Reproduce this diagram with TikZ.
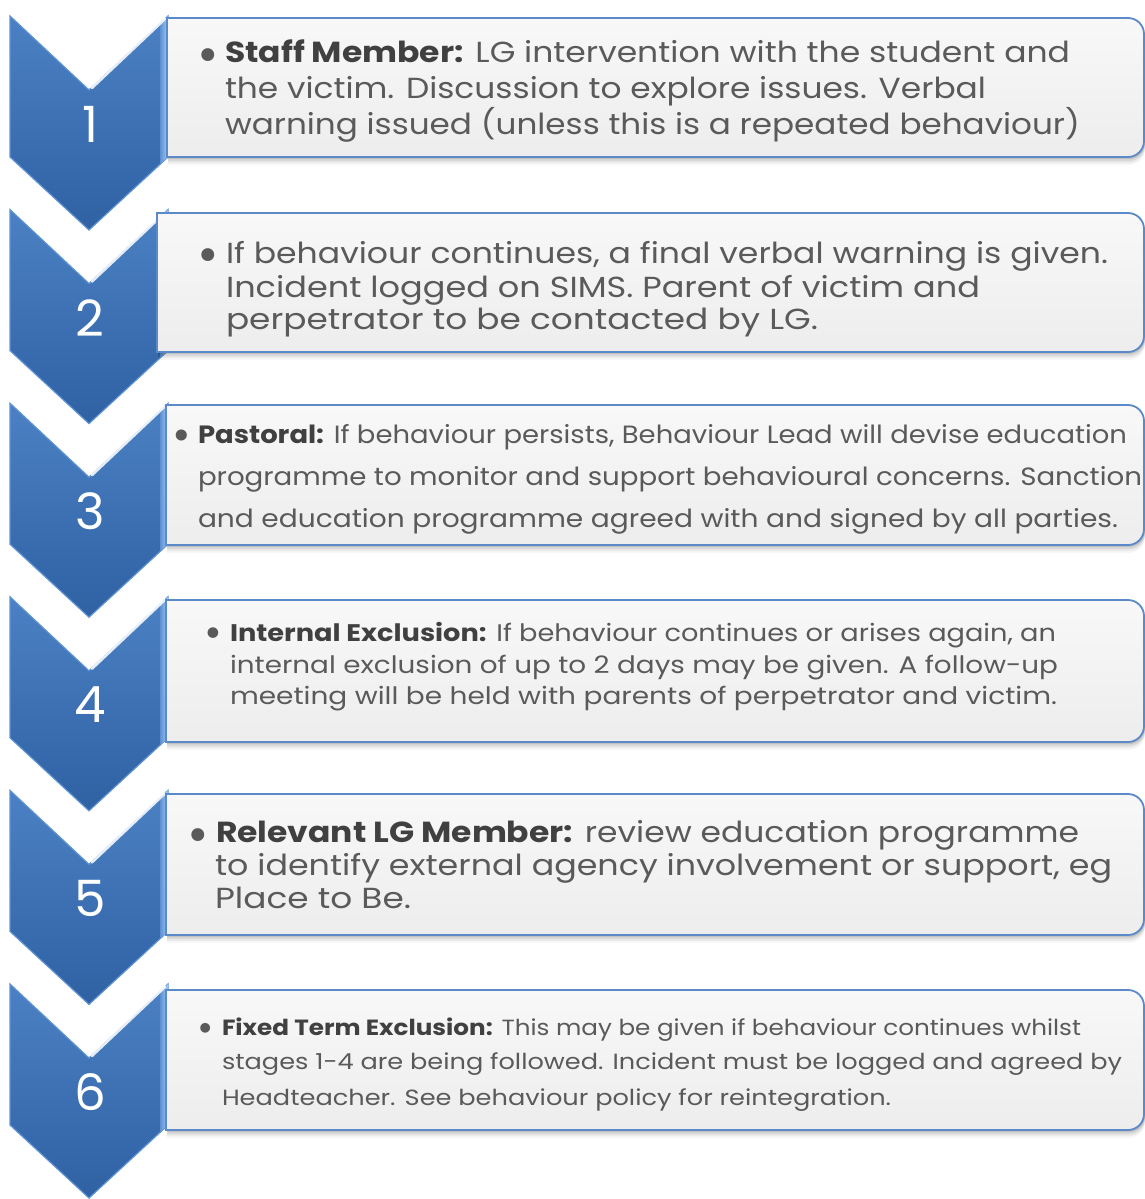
\documentclass[tikz,border=0pt]{standalone}
\usepackage{fontspec}
\setmainfont{Poppins}
\usepackage{graphicx}

\definecolor{chevtop}{HTML}{4B81C4}
\definecolor{chevbot}{HTML}{2F61A3}
\definecolor{chevedge}{HTML}{5E93D3}
\definecolor{bevelA}{HTML}{5C90D2}
\definecolor{bevelB}{HTML}{A6CDF3}
\definecolor{boxtop}{HTML}{F8F8F8}
\definecolor{boxbot}{HTML}{EDEDED}
\definecolor{boxline}{HTML}{5A8ACA}
\definecolor{textgray}{HTML}{5A5A5A}
\definecolor{boldgray}{HTML}{404040}

\tikzset{
  txt/.style={inner sep=0pt, outer sep=0pt, text=textgray, anchor=base west},
  bul/.style={inner sep=0pt, outer sep=0pt, text=textgray, anchor=base},
  num/.style={inner sep=0pt, text=white, font=\fontsize{50}{50}\selectfont},
}

% one line of a step's text, stretched to its set width
\newcommand\stepline[6]{%
  \node[txt] (#1) at (#2,#3)
    {\resizebox{#4pt}{\height}{\fontsize{#5}{#5}\selectfont #6}};}
% an enlarged bullet
\newcommand\bigbullet[1]{\scalebox{1.8}{\fontsize{#1}{#1}\selectfont •}}
\newcommand\hl[1]{\textcolor{boldgray}{\textbf{#1}}}

\begin{document}
\begin{tikzpicture}[x=1pt,y=-1pt]
\useasboundingbox (0,0) rectangle (1145,1199);
\fill[white] (0,0) rectangle (1145,1199);

% blue chevrons with their step numbers
\foreach \k/\T in {1/16, 2/209.6, 3/403.2, 4/596.8, 5/790.4, 6/984} {
  \shade[top color=chevtop, bottom color=chevbot, draw=chevedge, line width=1.2]
    (10,\T) -- (89,\T+74) -- (168,\T) -- (168,\T+141) -- (89,\T+214) -- (10,\T+141) -- cycle;
  \shade[left color=bevelA, right color=bevelB]
    (160,\T+8) -- (168,\T) -- (168,\T+141) -- (160,\T+148) -- cycle;
  \draw[white, line width=2.5, opacity=0.85, line cap=round] (92,\T+72) -- (165,\T+3);
  \node[num] (n\k) at (90,\T+108) {\k};
}

% text panels
\foreach \L/\t/\b in {167/18/157, 157/213/352, 166/405/545, 166/600/742, 166/794/935, 166/990/1130} {
  \foreach \d/\o in {2/0.10, 4/0.08, 6/0.05, 8/0.03}
    \fill[black, opacity=\o, shift={(1,\d)}]
      (\L,\t) -- (1128,\t) arc[start angle=-90, end angle=0, radius=16]
      -- (1144,\b-16) arc[start angle=0, end angle=90, radius=16] -- (\L,\b) -- cycle;
  \shade[top color=boxtop, bottom color=boxbot, draw=boxline, line width=1.8]
    (\L,\t) -- (1128,\t) arc[start angle=-90, end angle=0, radius=16]
    -- (1144,\b-16) arc[start angle=0, end angle=90, radius=16] -- (\L,\b) -- cycle;
}

% step 1
\node[bul] (u1) at (208,72.5) {\bigbullet{29}};
\stepline{t1a}{225}{63}{845}{29}{\hl{Staff Member:} LG intervention with the student and}
\stepline{t1b}{225}{99}{761}{29}{the victim. Discussion to explore issues. Verbal}
\stepline{t1c}{225}{134}{855}{29}{warning issued (unless this is a repeated behaviour)}

% step 2
\node[bul] (u2) at (208,272.5) {\bigbullet{29}};
\stepline{t2a}{226}{263}{882}{29}{If behaviour continues, a final verbal warning is given.}
\stepline{t2b}{226}{297}{754}{29}{Incident logged on SIMS. Parent of victim and}
\stepline{t2c}{226}{329}{592}{29}{perpetrator to be contacted by LG.}

% step 3
\node[bul] (u3) at (182,450) {\bigbullet{25}};
\stepline{t3a}{198}{443}{929}{25}{\hl{Pastoral:} If behaviour persists, Behaviour Lead will devise education}
\stepline{t3b}{198}{485}{944}{25}{programme to monitor and support behavioural concerns. Sanction}
\stepline{t3c}{198}{527}{920}{25}{and education programme agreed with and signed by all parties.}

% step 4
\node[bul] (u4) at (213,647) {\bigbullet{24}};
\stepline{t4a}{230}{641}{826}{24}{\hl{Internal Exclusion:} If behaviour continues or arises again, an}
\stepline{t4b}{230}{673}{828}{24}{internal exclusion of up to 2 days may be given. A follow-up}
\stepline{t4c}{230}{704}{827}{24}{meeting will be held with parents of perpetrator and victim.}

% step 5
\node[bul] (u5) at (198,852) {\bigbullet{29}};
\stepline{t5a}{216}{842}{863}{29}{\hl{Relevant LG Member:} review education programme}
\stepline{t5b}{215}{875}{897}{29}{to identify external agency involvement or support, eg}
\stepline{t5c}{215}{908}{196}{29}{Place to Be.}

% step 6
\node[bul] (u6) at (206,1041) {\bigbullet{22}};
\stepline{t6a}{222}{1035}{859}{22}{\hl{Fixed Term Exclusion:} This may be given if behaviour continues whilst}
\stepline{t6b}{222}{1069}{900}{22}{stages 1-4 are being followed. Incident must be logged and agreed by}
\stepline{t6c}{222}{1105}{669}{22}{Headteacher. See behaviour policy for reintegration.}
\end{tikzpicture}
\end{document}
